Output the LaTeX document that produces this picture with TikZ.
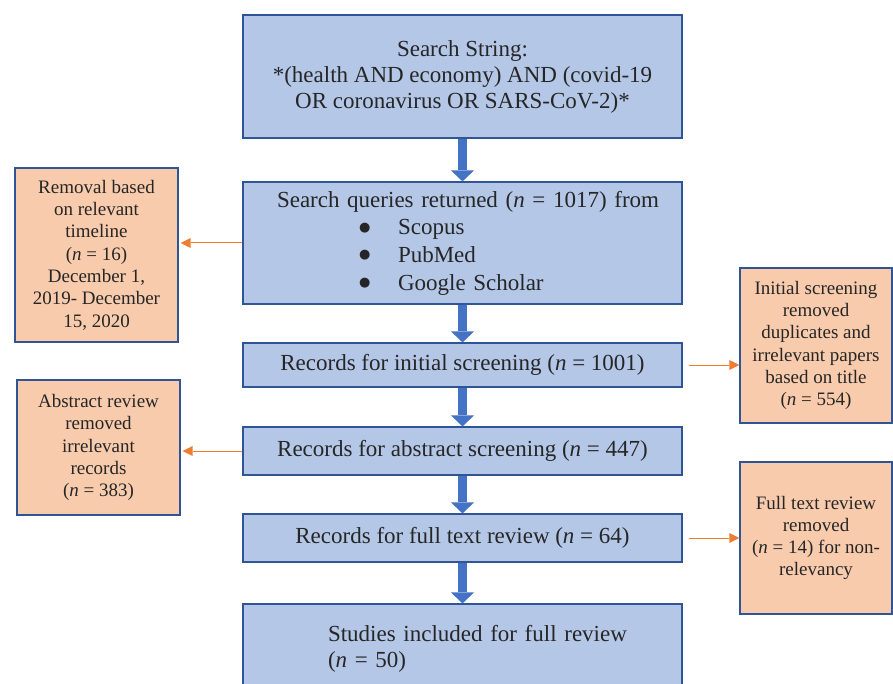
\documentclass[tikz,border=0pt]{standalone}
\usepackage{fontspec}
\setmainfont{Liberation Serif}
\newfontfamily\dotfont{DejaVu Sans}
\usetikzlibrary{arrows.meta}
\definecolor{boxblue}{HTML}{B4C7E7}
\definecolor{edgeblue}{HTML}{2F5597}
\definecolor{flowblue}{HTML}{4472C4}
\definecolor{boxorange}{HTML}{F8CBAD}
\definecolor{lineorange}{HTML}{ED7D31}
\definecolor{inkgray}{HTML}{262626}
\newcommand{\srcitem}[1]{\hspace*{116pt}\makebox[39pt][l]{\raisebox{3.5pt}{\dotfont\fontsize{13}{13}\selectfont ●}}#1}
\tikzset{
  mainbox/.style={draw=edgeblue, fill=boxblue, line width=1.1pt, inner sep=0pt,
    minimum width=439pt, align=center, text=inkgray, font=\fontsize{23}{26}\selectfont},
  sidebox/.style={draw=edgeblue, fill=boxorange, line width=1.1pt, inner sep=0pt,
    align=center, text=inkgray, font=\fontsize{19}{22.3}\selectfont},
  flow/.style={flowblue, line width=9pt,
    -{Triangle[length=11pt, width=23pt, line width=0pt]}},
  drop/.style={lineorange, line width=1pt,
    -{Triangle[length=10pt, width=10pt, line width=0pt]}}
}
\begin{document}
\begin{tikzpicture}[x=1pt, y=-1pt]
    \useasboundingbox (0,0) rectangle (893,684);
    \clip (0,0) rectangle (893,684);

    % Hauptkette
    \node[mainbox, minimum height=123pt] (search) at (462.5,76.5)
        {Search String:\\ *(health AND economy) AND (covid-19\\ OR coronavirus OR SARS-CoV-2)*};
    \node[mainbox, minimum height=122pt, text width=439pt, align=left,
          font=\fontsize{23}{27.7}\selectfont] (queries) at (462.5,243)
        {\hspace*{34pt}Search queries returned (\textit{n} = 1017) from\\
         \srcitem{Scopus}\\ \srcitem{PubMed}\\ \srcitem{Google Scholar}};
    \node[mainbox, minimum height=44pt] (initial) at (462.5,365)
        {Records for initial screening (\textit{n} = 1001)};
    \node[mainbox, minimum height=48pt] (abstract) at (462.5,451)
        {Records for abstract screening (\textit{n} = 447)};
    \node[mainbox, minimum height=48pt] (fulltext) at (462.5,538)
        {Records for full text review (\textit{n} = 64)};
    \node[mainbox, minimum height=90pt, text width=439pt, align=left] (included) at (462.5,649)
        {\hspace*{85pt}Studies included for full review\\ \hspace*{85pt}(\textit{n} = 50)};

    % Ausschluesse
    \node[sidebox, minimum width=163pt, minimum height=174pt] (timeline) at (96.5,255)
        {Removal based\\ on relevant\\ timeline\\ (\textit{n} = 16)\\ December 1,\\ 2019- December\\ 15, 2020};
    \node[sidebox, minimum width=163pt, minimum height=135pt] (absout) at (98.5,447.5)
        {Abstract review\\ removed\\ irrelevant\\ records\\ (\textit{n} = 383)};
    \node[sidebox, minimum width=152pt, minimum height=155pt] (dupout) at (816,345.5)
        {Initial screening\\ removed\\ duplicates and\\ irrelevant papers\\ based on title\\ (\textit{n} = 554)};
    \node[sidebox, minimum width=152pt, minimum height=152pt] (fullout) at (816,538)
        {Full text review\\ removed\\ (\textit{n} = 14) for non-\\ relevancy};

    % Pfeile
    \draw[flow] (search.south) -- (queries.north);
    \draw[flow] (queries.south) -- (initial.north);
    \draw[flow] (initial.south) -- (abstract.north);
    \draw[flow] (abstract.south) -- (fulltext.north);
    \draw[flow] (fulltext.south) -- (included.north);

    \draw[drop, shorten >=2pt] (queries.west) -- (queries.west -| timeline.east);
    \draw[drop, shorten <=6pt] (initial.east) -- (initial.east -| dupout.west);
    \draw[drop, shorten >=2pt] (abstract.west) -- (abstract.west -| absout.east);
    \draw[drop, shorten <=6pt] (fulltext.east) -- (fulltext.east -| fullout.west);
\end{tikzpicture}
\end{document}
